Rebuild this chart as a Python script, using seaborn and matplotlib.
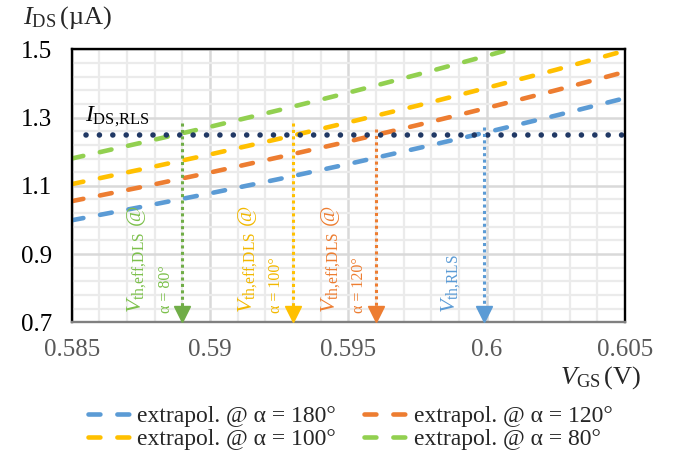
import numpy as np
import pandas as pd
import matplotlib
matplotlib.use("Agg")
from matplotlib import pyplot as plt
import seaborn as sns

# V_GS grid (V) and read-off I_DS values (uA) for each extrapolation
vgs = [0.585, 0.5875, 0.59, 0.5925, 0.595, 0.5975, 0.6, 0.6025, 0.605]
i_180 = [0.999, 1.038, 1.078, 1.120, 1.164, 1.210, 1.257, 1.306, 1.357]
i_120 = [1.055, 1.096, 1.139, 1.184, 1.230, 1.278, 1.328, 1.380, 1.434]
i_100 = [1.105, 1.148, 1.192, 1.238, 1.286, 1.335, 1.387, 1.440, 1.496]
i_80 = [1.180, 1.226, 1.273, 1.322, 1.373, 1.426, 1.481, 1.538, 1.597]

i_rls = 1.25
rls_start = 0.5855
# threshold voltages marked by arrows and top of each dotted arrow
vth = [0.5890, 0.5930, 0.5960, 0.5999]
arrow_top = [1.283, 1.283, 1.268, 1.272]
arrow_labels = [
    (r"$V_{\mathrm{th{,}eff{,}DLS}}$ @", "α = 80°"),
    (r"$V_{\mathrm{th{,}eff{,}DLS}}$ @", "α = 100°"),
    (r"$V_{\mathrm{th{,}eff{,}DLS}}$ @", "α = 120°"),
    (r"$V_{\mathrm{th{,}RLS}}$", None),
]

blue, orange, yellow, green = "#5B9BD5", "#ED7D31", "#FFC000", "#92D050"
arrow_colors = ["#70AD47", yellow, orange, blue]
text_colors = ["#7CC04B", "#F2B800", "#ED7D31", "#5B9BD5"]
navy = "#203864"

sns.set_style("white")
plt.rcParams["font.family"] = ["Liberation Serif", "DejaVu Serif"]
plt.rcParams["mathtext.fontset"] = "custom"
plt.rcParams["mathtext.rm"] = "Liberation Serif"
plt.rcParams["mathtext.it"] = "Liberation Serif:italic"

fig = plt.figure(figsize=(6.8, 4.57), dpi=100)
ax = fig.add_axes([0.1054, 0.2947, 0.8137, 0.5973])

series = [
    (i_180, blue, "extrapol. @ α = 180°"),
    (i_100, yellow, "extrapol. @ α = 100°"),
    (i_120, orange, "extrapol. @ α = 120°"),
    (i_80, green, "extrapol. @ α = 80°"),
]
for vals, col, lab in series:
    sns.lineplot(x=vgs, y=vals, color=col, lw=3.3, label=lab, ax=ax,
                 linestyle=(0, (2.6, 3.7)), dash_capstyle="round")

# horizontal I_DS,RLS dotted line
sns.lineplot(x=[rls_start, 0.605], y=[i_rls, i_rls], color=navy, lw=4.0,
             linestyle=(0, (0.01, 2.4)), dash_capstyle="round", ax=ax,
             legend=False)
ax.text(0.58548, 1.266, r"$I_{\mathrm{DS{,}RLS}}$", fontsize=17, color="black",
        ha="left", va="bottom")

# dotted arrows down to the V_GS axis
for x, top, col, tcol, (lab, alab) in zip(vth, arrow_top, arrow_colors,
                                            text_colors, arrow_labels):
    ax.plot([x, x], [top, 0.735], color=col, lw=2.2, linestyle=(0, (1, 1.1)))
    ax.plot([x], [0.7235], marker="v", ms=11.5, color=col, clip_on=False,
            zorder=5)
    if alab is None:
        ax.text(x - 0.0012, 0.726, lab, rotation=90, color=tcol, fontsize=16,
                ha="center", va="bottom")
    else:
        ax.text(x - 0.00165, 0.726, lab, rotation=90, color=tcol, fontsize=16,
                ha="center", va="bottom")
        ax.text(x - 0.0006, 0.728, alab, rotation=90, color=tcol, fontsize=11.5,
                ha="center", va="bottom")

ax.set_xlim(0.585, 0.605)
ax.set_ylim(0.7, 1.5)
ax.set_xticks([0.585, 0.59, 0.595, 0.6, 0.605])
ax.set_xticklabels(["0.585", "0.59", "0.595", "0.6", "0.605"])
ax.set_yticks([0.7, 0.9, 1.1, 1.3, 1.5])
ax.set_yticklabels(["0.7", "0.9", "1.1", "1.3", "1.5"])
ax.set_xticks(np.arange(0.585, 0.6051, 0.001), minor=True)
ax.set_yticks(np.arange(0.7, 1.501, 0.04), minor=True)
ax.grid(which="minor", color="#EBEBEB", lw=1.6)
ax.grid(which="major", color="#D9D9D9", lw=1.8)
ax.set_axisbelow(True)
ax.tick_params(which="both", length=0)
ax.tick_params(axis="x", labelsize=18, colors="#595959", pad=12)
ax.tick_params(axis="y", labelsize=18, colors="black", pad=14)
ax.set_xlabel("")
ax.set_ylabel("")

for side in ["left", "top", "right"]:
    ax.spines[side].set_color("black")
    ax.spines[side].set_linewidth(1.7)
ax.spines["bottom"].set_color("#808080")
ax.spines["bottom"].set_linewidth(1.7)

fig.text(0.034, 0.962, r"$I_{\mathrm{DS}}\,$(µA)", fontsize=19, ha="left",
         va="center")
fig.text(0.942, 0.173, r"$V_{\mathrm{GS}}\,$(V)", fontsize=19, ha="right",
         va="center")

handles, labels = ax.get_legend_handles_labels()
ax.get_legend().remove()
fig.legend(handles, labels, loc="center", bbox_to_anchor=(0.515, 0.064),
           ncol=2, frameon=False, fontsize=17, handlelength=1.75,
           columnspacing=1.2, labelspacing=0.05, handletextpad=0.35)

fig.savefig("out.png", dpi=100)
